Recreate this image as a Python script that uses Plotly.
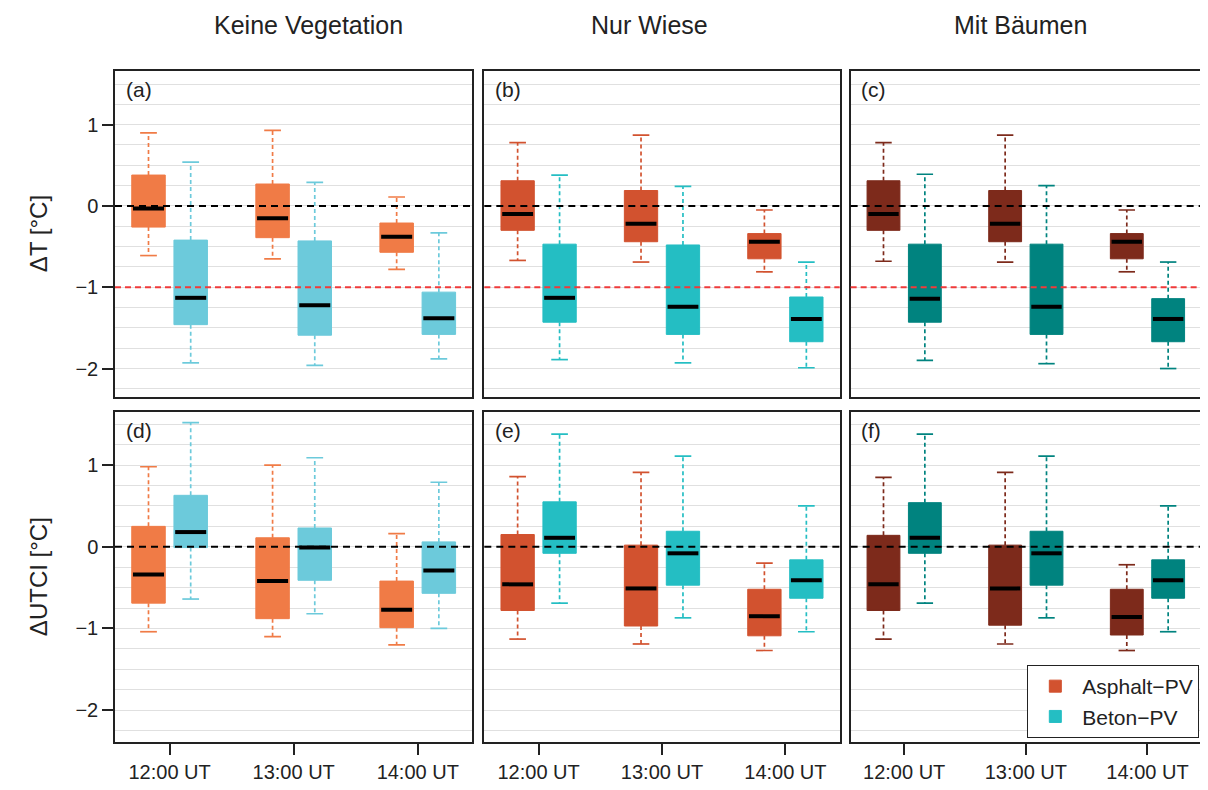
import plotly.graph_objects as go

# ---------------- data ----------------
TIMES = ["12:00 UT", "13:00 UT", "14:00 UT"]
COL_TITLES = ["Keine Vegetation", "Nur Wiese", "Mit Bäumen"]
ROW_TITLES = ["ΔT [°C]", "ΔUTCI [°C]"]
PANEL_LABELS = ["(a)", "(b)", "(c)", "(d)", "(e)", "(f)"]
SERIES = ["Asphalt−PV", "Beton−PV"]
Y_TICKS = [-2, -1, 0, 1]
ZERO_LINE = 0
THRESHOLD_LINE = -1

# each entry: [lower whisker, Q1, median, Q3, upper whisker] for 12, 13, 14 UT
a_asph = [[-0.61, -0.26, -0.03, 0.38, 0.90], [-0.65, -0.39, -0.15, 0.27, 0.93], [-0.78, -0.57, -0.38, -0.21, 0.11]]
a_beton = [[-1.93, -1.46, -1.13, -0.42, 0.54], [-1.96, -1.59, -1.22, -0.43, 0.29], [-1.88, -1.58, -1.38, -1.06, -0.33]]
b_asph = [[-0.67, -0.30, -0.10, 0.31, 0.78], [-0.69, -0.44, -0.22, 0.19, 0.87], [-0.81, -0.65, -0.44, -0.34, -0.05]]
b_beton = [[-1.89, -1.43, -1.13, -0.47, 0.38], [-1.93, -1.58, -1.24, -0.48, 0.24], [-1.99, -1.67, -1.39, -1.12, -0.69]]
c_asph = [[-0.68, -0.30, -0.10, 0.31, 0.78], [-0.69, -0.44, -0.22, 0.19, 0.87], [-0.81, -0.65, -0.44, -0.34, -0.05]]
c_beton = [[-1.90, -1.43, -1.14, -0.47, 0.39], [-1.94, -1.58, -1.24, -0.47, 0.25], [-2.00, -1.67, -1.39, -1.14, -0.69]]
d_asph = [[-1.04, -0.69, -0.34, 0.25, 0.98], [-1.10, -0.88, -0.42, 0.11, 1.00], [-1.20, -0.99, -0.77, -0.42, 0.16]]
d_beton = [[-0.64, -0.01, 0.18, 0.63, 1.52], [-0.82, -0.41, -0.01, 0.23, 1.09], [-1.00, -0.57, -0.29, 0.06, 0.79]]
e_asph = [[-1.13, -0.78, -0.46, 0.15, 0.86], [-1.19, -0.97, -0.51, 0.02, 0.91], [-1.27, -1.09, -0.85, -0.52, -0.20]]
e_beton = [[-0.69, -0.08, 0.11, 0.55, 1.38], [-0.87, -0.47, -0.08, 0.19, 1.11], [-1.04, -0.63, -0.41, -0.16, 0.50]]
f_asph = [[-1.13, -0.78, -0.46, 0.14, 0.85], [-1.19, -0.96, -0.51, 0.02, 0.91], [-1.27, -1.08, -0.86, -0.52, -0.22]]
f_beton = [[-0.69, -0.08, 0.11, 0.54, 1.38], [-0.87, -0.47, -0.08, 0.19, 1.11], [-1.04, -0.63, -0.41, -0.16, 0.50]]

COL_ASPH = ["#F07B46", "#D2522F", "#7D2A1B"]
COL_BETON = ["#6CCADB", "#24BEC3", "#00837F"]

# ---------------- layout constants ----------------
OFF = 8                      # page body margin
W, H = 1208 - OFF, 790 - OFF
X_PX = [(115, 473), (485, 841), (852, 1203)]   # page pixel positions
Y_PX = [(71, 397), (412, 742)]
ML = X_PX[0][0] - OFF
MR = W - (X_PX[2][1] - OFF)
MT = Y_PX[0][0] - OFF
MB = H - (Y_PX[1][1] - OFF)
PW, PH = W - ML - MR, H - MT - MB
Y_RANGES = [[-2.35, 1.66], [-2.39, 1.65]]
X_RANGE = [0.56, 3.44]
T_POS = [1, 2, 3]
OFFSET = 0.17
BOXW = 0.27
FONT = "Liberation Sans, Arial, sans-serif"

def px_x(x):
    return (x - OFF - ML) / PW

def px_y(y):
    return (H - MB - (y - OFF)) / PH

def xdom(c):
    a, b = X_PX[c]
    return [px_x(a), px_x(b)]

def ydom(r):
    a, b = Y_PX[r]
    return [px_y(b), px_y(a)]

panels = [(a_asph, a_beton), (b_asph, b_beton), (c_asph, c_beton),
          (d_asph, d_beton), (e_asph, e_beton), (f_asph, f_beton)]

fig = go.Figure()
layout = dict(
    width=W, height=H, margin=dict(l=ML, r=MR, t=MT, b=MB),
    paper_bgcolor="white", plot_bgcolor="white",
    barmode="overlay", font=dict(family=FONT, color="#222", size=20),
    showlegend=True,
    legend=dict(x=px_x(1029), y=px_y(665), xanchor="left", yanchor="top",
                bordercolor="#222", borderwidth=1, bgcolor="white",
                font=dict(size=21), tracegroupgap=0, itemwidth=44),
)

for p, (asph, beton) in enumerate(panels):
    r, c = divmod(p, 3)
    xa = "x" if p == 0 else f"x{p+1}"
    ya = "y" if p == 0 else f"y{p+1}"
    for s, (stats, col) in enumerate([(asph, COL_ASPH[c]), (beton, COL_BETON[c])]):
        pos = [t + (-OFFSET if s == 0 else OFFSET) for t in T_POS]
        lo = [v[0] for v in stats]
        q1 = [v[1] for v in stats]
        med = [v[2] for v in stats]
        q3 = [v[3] for v in stats]
        hi = [v[4] for v in stats]
        # whiskers (dashed)
        wx, wy = [], []
        for i in range(3):
            wx += [pos[i], pos[i], None, pos[i], pos[i], None]
            wy += [q3[i], hi[i], None, q1[i], lo[i], None]
        fig.add_trace(go.Scatter(x=wx, y=wy, mode="lines", xaxis=xa, yaxis=ya,
                                 line=dict(color=col, width=1.7, dash="4px,3px"),
                                 showlegend=False, hoverinfo="skip"))
        # caps
        cx, cy = [], []
        for i in range(3):
            for v in (hi[i], lo[i]):
                cx += [pos[i] - BOXW / 4, pos[i] + BOXW / 4, None]
                cy += [v, v, None]
        fig.add_trace(go.Scatter(x=cx, y=cy, mode="lines", xaxis=xa, yaxis=ya,
                                 line=dict(color=col, width=1.7),
                                 showlegend=False, hoverinfo="skip"))
        # boxes
        fig.add_trace(go.Bar(x=pos, y=[b - a for a, b in zip(q1, q3)], base=q1,
                             width=BOXW, xaxis=xa, yaxis=ya, name=SERIES[s],
                             marker=dict(color=col, line=dict(color=col, width=1)),
                             showlegend=(p == 4), legendrank=s + 1))
        # medians
        mx, my = [], []
        for i in range(3):
            mx += [pos[i] - BOXW / 2 + 0.01, pos[i] + BOXW / 2 - 0.01, None]
            my += [med[i], med[i], None]
        fig.add_trace(go.Scatter(x=mx, y=my, mode="lines", xaxis=xa, yaxis=ya,
                                 line=dict(color="black", width=4),
                                 showlegend=False, hoverinfo="skip"))

    xkey = "xaxis" if p == 0 else f"xaxis{p+1}"
    ykey = "yaxis" if p == 0 else f"yaxis{p+1}"
    layout[xkey] = dict(domain=xdom(c), anchor=ya, range=X_RANGE,
                        tickvals=T_POS, ticktext=TIMES,
                        ticks="outside" if r == 1 else "", ticklen=11, tickwidth=1.5,
                        tickcolor="#222", showticklabels=(r == 1),
                        tickfont=dict(size=20), showgrid=False, zeroline=False,
                        showline=True, mirror=True, linecolor="#222", linewidth=1.5)
    layout[ykey] = dict(domain=ydom(r), anchor=xa, range=Y_RANGES[r],
                        tickvals=Y_TICKS, ticks="outside" if c == 0 else "",
                        ticklen=11, tickwidth=1.5, tickcolor="#222",
                        showticklabels=(c == 0), tickfont=dict(size=20),
                        showgrid=True, gridcolor="#E0E0E0", gridwidth=1,
                        minor=dict(dtick=0.25, tick0=0, showgrid=True,
                                   gridcolor="#E0E0E0", gridwidth=1, ticks=""),
                        zeroline=False, showline=True, mirror=True,
                        linecolor="#222", linewidth=1.5)
    # reference lines
    fig.add_shape(type="line", xref=f"{xa} domain", yref=ya, x0=0, x1=1,
                  y0=ZERO_LINE, y1=ZERO_LINE, layer="above",
                  line=dict(color="black", width=2, dash="7px,5px"))
    if r == 0:
        fig.add_shape(type="line", xref=f"{xa} domain", yref=ya, x0=0, x1=1,
                      y0=THRESHOLD_LINE, y1=THRESHOLD_LINE, layer="above",
                      line=dict(color="#F03A3A", width=2, dash="6px,4px"))
    fig.add_annotation(text=PANEL_LABELS[p], xref=f"{xa} domain", yref=f"{ya} domain",
                       x=0.025, y=0.985, xanchor="left", yanchor="top",
                       showarrow=False, font=dict(size=21))

# column titles
for c, (t, cx) in enumerate(zip(COL_TITLES, [309, 650, 1022])):
    fig.add_annotation(text=t, xref="paper", yref="paper",
                       x=px_x(cx), y=px_y(25),
                       xanchor="center", yanchor="middle", showarrow=False,
                       font=dict(size=25))
# row titles
for r, (t, cy) in enumerate(zip(ROW_TITLES, [234, 577])):
    fig.add_annotation(text=t, xref="paper", yref="paper",
                       x=px_x(38), y=px_y(cy), textangle=-90,
                       xanchor="center", yanchor="middle", showarrow=False,
                       font=dict(size=24))

fig.update_layout(**layout)
fig.write_html("out.html")
